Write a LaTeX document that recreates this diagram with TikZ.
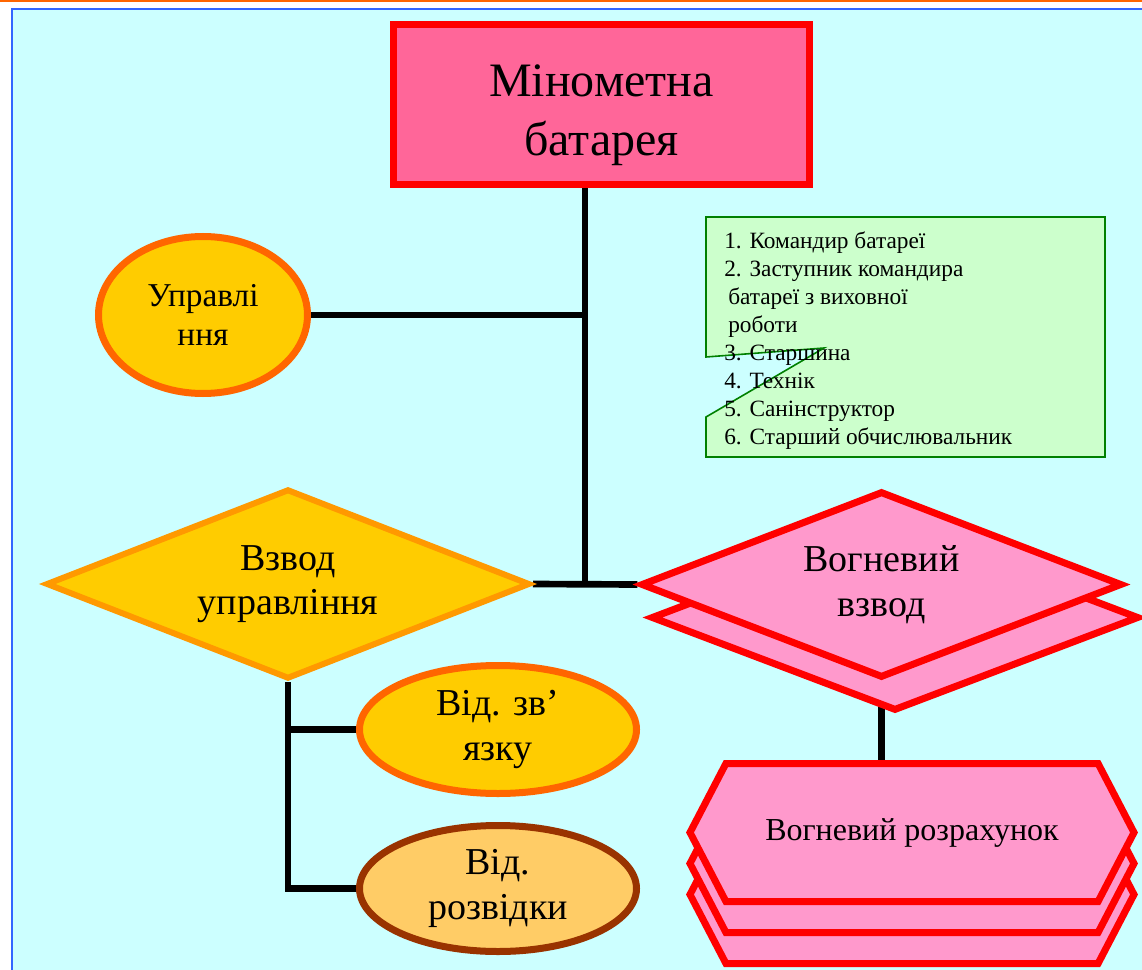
\documentclass[tikz,border=0pt]{standalone}
\usepackage{fontspec}
\setmainfont{Liberation Serif}
\usepackage{xcolor}
\definecolor{cSky}{HTML}{CCFFFF}
\definecolor{cFrame}{HTML}{3366FF}
\definecolor{cTopLine}{HTML}{FF6600}
\definecolor{cRose}{HTML}{FF6699}
\definecolor{cPink}{HTML}{FF99CC}
\definecolor{cRed}{HTML}{FF0000}
\definecolor{cGold}{HTML}{FFCC00}
\definecolor{cOrange}{HTML}{FF6600}
\definecolor{cAmber}{HTML}{FF9900}
\definecolor{cSand}{HTML}{FFCC66}
\definecolor{cBrown}{HTML}{993300}
\definecolor{cMint}{HTML}{CCFFCC}
\definecolor{cGreen}{HTML}{008000}
\usepackage{tikz}
\usetikzlibrary{positioning,shapes.geometric,shapes.symbols,backgrounds}
\newcommand{\fsz}[2]{\fontsize{#1}{#2}\selectfont}
\tikzset{
  node-batt/.style={rectangle,draw=cRed,fill=cRose,line width=5.25pt,
    minimum width=312pt,minimum height=120pt,align=center,font=\fsz{36}{44}},
  node-oval/.style={ellipse,draw=cOrange,fill=cGold,line width=5.25pt,
    inner sep=0pt,align=center,font=\fsz{28.5}{34}},
  node-oval-recon/.style={node-oval,draw=cBrown,fill=cSand},
  node-diam/.style={diamond,aspect=2.5,inner sep=0pt,align=center},
  node-diam-ctrl/.style={node-diam,draw=cAmber,fill=cGold,line width=4.5pt,
    minimum width=363pt,minimum height=142.5pt,font=\fsz{28.5}{33}},
  node-diam-fire/.style={node-diam,draw=cRed,fill=cPink,line width=5.25pt,
    minimum width=361pt,minimum height=140pt,font=\fsz{28.5}{34}},
  node-crew/.style={signal,signal to=west and east,signal pointer angle=125,
    draw=cRed,fill=cPink,line width=5.25pt,minimum width=333pt,
    minimum height=103.5pt,inner sep=0pt,font=\fsz{24}{28}},
  node-staff/.style={align=left,inner sep=0pt,font=\fsz{17.5}{21}},
  staff-box/.style={draw=cGreen,fill=cMint,line width=1.2pt},
  link/.style={draw=black,line width=5pt},
}

\begin{document}
\begin{tikzpicture}[x=0.75pt,y=-0.75pt]
  \useasboundingbox (0,0) rectangle (1142,970);
  \begin{scope}[on background layer]
    \fill[cSky] (12,9) rectangle (1142,970);
    \draw[cTopLine,line width=1.5pt] (0,1) -- (1142,1);
    \draw[cFrame,line width=1.5pt] (12,970) -- (12,9) -- (1142,9);
  \end{scope}

  \node[node-batt] (batt) at (601.5,104.5) {\rule{0pt}{40pt}Мінометна\\батарея};
  \node[node-oval,minimum width=156.75pt,minimum height=117.75pt,
    font=\fsz{25}{29}] (upr) at (203,315) {Управлі\\ння};

  % штат управління батареї
  \draw[staff-box] (706,217) -- (1105,217) -- (1105,457) -- (706,457)
    -- (706,417) -- (824,348) -- (706,357) -- cycle;
  \node[node-staff,anchor=north west] (staff) at (724,232) {%
    1. Командир батареї\\
    2. Заступник командира\\
    \hspace{3pt}батареї з виховної\\
    \hspace{3pt}роботи\\
    3. Старшина\\
    4. Технік\\
    5. Санінструктор\\
    6. Старший обчислювальник};

  \node[node-diam-ctrl] (vzu) at (288,584) {Взвод\\управління};
  \node[node-diam-fire,minimum width=366pt] (vvz-back) at (895,617.5) {};
  \node[node-diam-fire] (vvz) at (881.5,584.5) {Вогневий\\взвод};

  \foreach \dy/\i in {62/2,31/1}
    \node[node-crew] (crew-\i) at (912,832.5+\dy) {};
  \node[node-crew] (crew) at (912,832.5) {Вогневий розрахунок};

  \node[node-oval,minimum width=207.75pt,minimum height=96pt]
    (zv) at (498,729.5) {Від. зв’\\язку};
  \node[node-oval-recon,minimum width=207.75pt,minimum height=94.5pt]
    (rozv) at (498,888.5) {Від.\\розвідки};

  \coordinate (hub) at (585,584);
  \begin{scope}[on background layer]
    \draw[link] (batt.south -| hub) -- (hub);
    \draw[link] (upr.east) -- (upr.east -| hub);
    \draw[link] (vzu.east) -- (vvz.west);
    \draw[link] (vvz.south) -- (vvz.south |- crew.north);
    \draw[link] (vzu.south) |- (rozv.west);
    \draw[link] (vzu.south |- zv.west) -- (zv.west);
  \end{scope}
\end{tikzpicture}
\end{document}
